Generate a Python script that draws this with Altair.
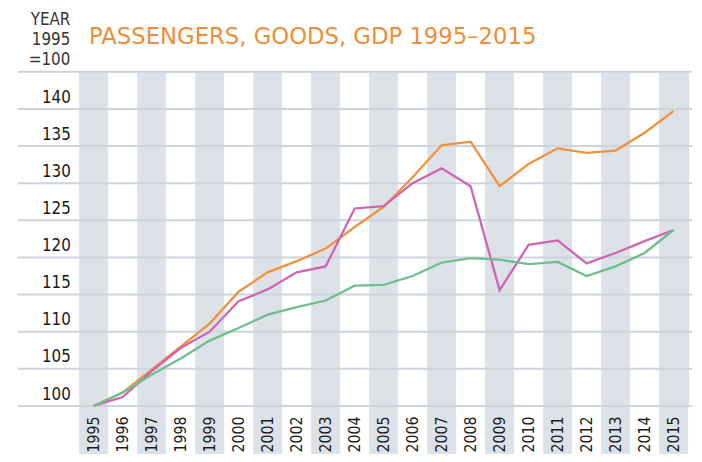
import altair as alt
import pandas as pd

years = list(range(1995, 2016))
passengers = [100.0, 101.8, 104.9, 108.0, 111.1, 115.4, 118.0, 119.5, 121.2, 124.1, 126.8,
              130.8, 135.1, 135.6, 129.6, 132.6, 134.7, 134.1, 134.4, 136.8, 139.7]
goods = [100.0, 101.2, 104.7, 107.8, 110.0, 114.1, 115.7, 118.0, 118.8, 126.6, 126.9,
         130.0, 132.0, 129.6, 115.6, 121.7, 122.3, 119.2, 120.6, 122.2, 123.7]
gdp = [100.0, 101.8, 104.2, 106.4, 108.8, 110.5, 112.3, 113.3, 114.2, 116.2, 116.3,
       117.5, 119.3, 119.9, 119.7, 119.1, 119.4, 117.5, 118.8, 120.6, 123.7]
band_years = years[::2]
grid_values = [100, 105, 110, 115, 120, 125, 130, 135, 140, 145]
label_values = [100, 105, 110, 115, 120, 125, 130, 135, 140]

title_text = "PASSENGERS, GOODS, GDP 1995–2015"
unit_text = ["YEAR", "1995", "=100"]

W, H = 616, 338
FONT = "DejaVu Sans Condensed, Liberation Sans Narrow, DejaVu Sans"

df = pd.DataFrame({
    "year": years * 3,
    "value": passengers + goods + gdp,
    "series": ["Passengers"] * 21 + ["Goods"] * 21 + ["GDP"] * 21,
})
bands = pd.DataFrame({"year": band_years})
grid = pd.DataFrame({"v": grid_values})

xscale = alt.Scale(domain=[1994.5, 2015.5], nice=False, zero=False)
yscale = alt.Scale(domain=[100, 145], nice=False, zero=False)

xaxis = alt.Axis(
    values=years, format="d", labelAngle=270, labelAlign="right",
    labelBaseline="middle", labelPadding=10, ticks=False,
    domain=False, grid=False, title=None, labelFontSize=16, labelFont=FONT,
    labelColor="#1a1a1a", zindex=2, labelOverlap=False)

band_layer = alt.Chart(bands).transform_calculate(
    x0="datum.year - 0.5", x1="datum.year + 0.5"
).mark_rect(color="#dde2e9").encode(
    x=alt.X("x0:Q", scale=xscale, axis=xaxis),
    x2="x1:Q",
    y=alt.value(0),
    y2=alt.value(H + 54),
)

grid_layer = alt.Chart(grid).mark_rule(color="#cdd4db", strokeWidth=2).encode(
    y=alt.Y("v:Q", scale=yscale, axis=alt.Axis(
        values=label_values, labelBaseline="alphabetic", labelOffset=-7,
        labelPadding=9, ticks=False, domain=False, grid=False, title=None,
        labelFontSize=17, labelFont=FONT, labelColor="#1a1a1a")),
    x=alt.value(-62),
    x2=alt.value(W + 4),
)

line_layer = alt.Chart(df).mark_line(strokeWidth=2.3).encode(
    x=alt.X("year:Q", scale=xscale, axis=xaxis),
    y=alt.Y("value:Q", scale=yscale),
    color=alt.Color("series:N", legend=None, scale=alt.Scale(
        domain=["GDP", "Goods", "Passengers"],
        range=["#6dbf8c", "#d064b4", "#f0913c"])),
    order=alt.Order("year:Q"),
)

title_layer = alt.Chart(pd.DataFrame({"a": [0]})).mark_text(
    text=title_text, align="left", baseline="alphabetic", fontSize=23,
    font="DejaVu Sans", color="#ee8e3a").encode(
    x=alt.value(10), y=alt.value(-28))

unit_layer = alt.Chart(pd.DataFrame({"a": [0]})).mark_text(
    text=unit_text, align="right", baseline="top", fontSize=17, lineHeight=20,
    font=FONT, color="#333333").encode(
    x=alt.value(-9), y=alt.value(-60))

chart = alt.layer(band_layer, grid_layer, line_layer, title_layer, unit_layer).resolve_scale(
    x="shared", y="shared"
).properties(
    width=W, height=H,
    autosize=alt.AutoSizeParams(type="none"),
    padding={"left": 72, "top": 62, "right": 6, "bottom": 46},
).configure_view(stroke=None).configure(background="white")

chart.save("out.html", embed_options={"renderer": "svg", "actions": False})
